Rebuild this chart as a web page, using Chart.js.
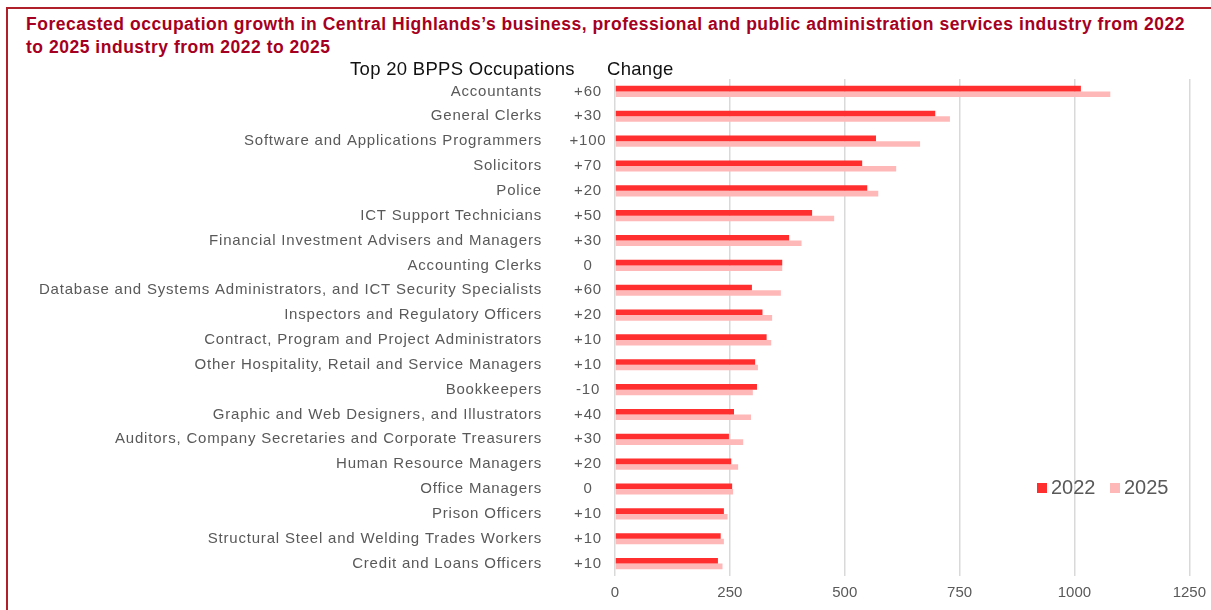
<!DOCTYPE html>
<html lang="en">
<head>
<meta charset="utf-8"/>
<title>BPPS occupation growth 2022-2025</title>
<script src="https://cdn.jsdelivr.net/npm/chart.js"></script>
<style>
  body {
    margin: 0;
    background: #fff;
    width: 1211px;
    height: 610px;
    overflow: hidden;
    position: relative;
  }
  .frame {
    position: absolute;
    left: 6px;
    top: 7px;
    width: 1300px;
    height: 700px;
    border-left: 2px solid #b0202a;
    border-top: 2px solid #b0202a;
  }
  .heading {
    position: absolute;
    left: 26px;
    top: 13px;
    font-family: "Liberation Sans", Arial, sans-serif;
    font-weight: bold;
    font-size: 17.5px;
    letter-spacing: 0.52px;
    line-height: 22.5px;
    color: #a50021;
    white-space: nowrap;
  }
  canvas {
    position: absolute;
    left: 0;
    top: 0;
  }
</style>
</head>
<body>
<div class="frame"></div>
<div class="heading">Forecasted occupation growth in Central Highlands’s business, professional and public administration services industry from 2022<br/>to 2025 industry from 2022 to 2025</div>
<canvas id="chart" width="1214" height="610"></canvas>
<script>
  const occupations = [
    "Accountants",
    "General Clerks",
    "Software and Applications Programmers",
    "Solicitors",
    "Police",
    "ICT Support Technicians",
    "Financial Investment Advisers and Managers",
    "Accounting Clerks",
    "Database and Systems Administrators, and ICT Security Specialists",
    "Inspectors and Regulatory Officers",
    "Contract, Program and Project Administrators",
    "Other Hospitality, Retail and Service Managers",
    "Bookkeepers",
    "Graphic and Web Designers, and Illustrators",
    "Auditors, Company Secretaries and Corporate Treasurers",
    "Human Resource Managers",
    "Office Managers",
    "Prison Officers",
    "Structural Steel and Welding Trades Workers",
    "Credit and Loans Officers"
  ];
  const change = ["+60", "+30", "+100", "+70", "+20", "+50", "+30", "0", "+60", "+20",
                  "+10", "+10", "-10", "+40", "+30", "+20", "0", "+10", "+10", "+10"];
  const jobs2022 = [1014, 697, 568, 538, 549, 429, 379, 364, 298, 321,
                    330, 305, 309, 259, 248, 253, 255, 237, 230, 224];
  const jobs2025 = [1078, 729, 664, 612, 573, 477, 406, 364, 361, 342,
                    340, 311, 300, 296, 279, 268, 257, 245, 237, 234];
  const xTicks = [0, 250, 500, 750, 1000, 1250];

  const red = "#ff2f2f";
  const pink = "#ffb8b8";
  const grey = "#595959";
  const labelFont = '15px "Liberation Sans", Arial, sans-serif';

  // occupation names, change column, headers and legend
  const sideLabels = {
    id: "sideLabels",
    afterDraw(chart) {
      const ctx = chart.ctx;
      const y = chart.scales.y;
      ctx.save();
      ctx.textBaseline = "middle";
      ctx.font = labelFont;
      ctx.letterSpacing = "0.8px";
      ctx.fillStyle = grey;
      occupations.forEach((name, i) => {
        const py = y.getPixelForValue(i);
        ctx.textAlign = "right";
        ctx.fillText(name, 542, py);
        ctx.textAlign = "center";
        ctx.fillText(change[i], 588, py);
      });

      ctx.font = '18.5px "Liberation Sans", Arial, sans-serif';
      ctx.letterSpacing = "0.3px";
      ctx.fillStyle = "#111";
      ctx.textBaseline = "alphabetic";
      ctx.textAlign = "left";
      ctx.fillText("Top 20 BPPS Occupations", 350, 75);
      ctx.fillText("Change", 607, 75);

      // legend
      ctx.font = '20px "Liberation Sans", Arial, sans-serif';
      ctx.letterSpacing = "0px";
      ctx.textBaseline = "middle";
      const items = [["2022", red, 1037], ["2025", pink, 1110]];
      items.forEach(([txt, col, x]) => {
        ctx.fillStyle = col;
        ctx.fillRect(x, 483, 10, 10);
        ctx.fillStyle = grey;
        ctx.fillText(txt, x + 14, 488);
      });
      ctx.restore();
    }
  };

  new Chart(document.getElementById("chart"), {
    type: "bar",
    data: {
      labels: occupations,
      datasets: [
        { label: "2022", data: jobs2022, backgroundColor: red },
        { label: "2025", data: jobs2025, backgroundColor: pink }
      ]
    },
    options: {
      indexAxis: "y",
      responsive: false,
      animation: false,
      datasets: { bar: { categoryPercentage: 0.45, barPercentage: 1 } },
      layout: { padding: { left: 615, right: 18, top: 79, bottom: 0 } },
      plugins: { legend: { display: false }, tooltip: { enabled: false } },
      scales: {
        x: {
          min: 0,
          max: 1250,
          afterBuildTicks: (axis) => { axis.ticks = xTicks.map(v => ({ value: v })); },
          grid: { color: "#d9d9d9", lineWidth: 1.5, drawTicks: false },
          border: { display: false },
          ticks: {
            color: grey,
            padding: 8,
            font: { family: "Liberation Sans", size: 15 },
            callback: (v) => String(v)
          }
        },
        y: { display: false }
      }
    },
    plugins: [sideLabels]
  });
</script>
</body>
</html>
